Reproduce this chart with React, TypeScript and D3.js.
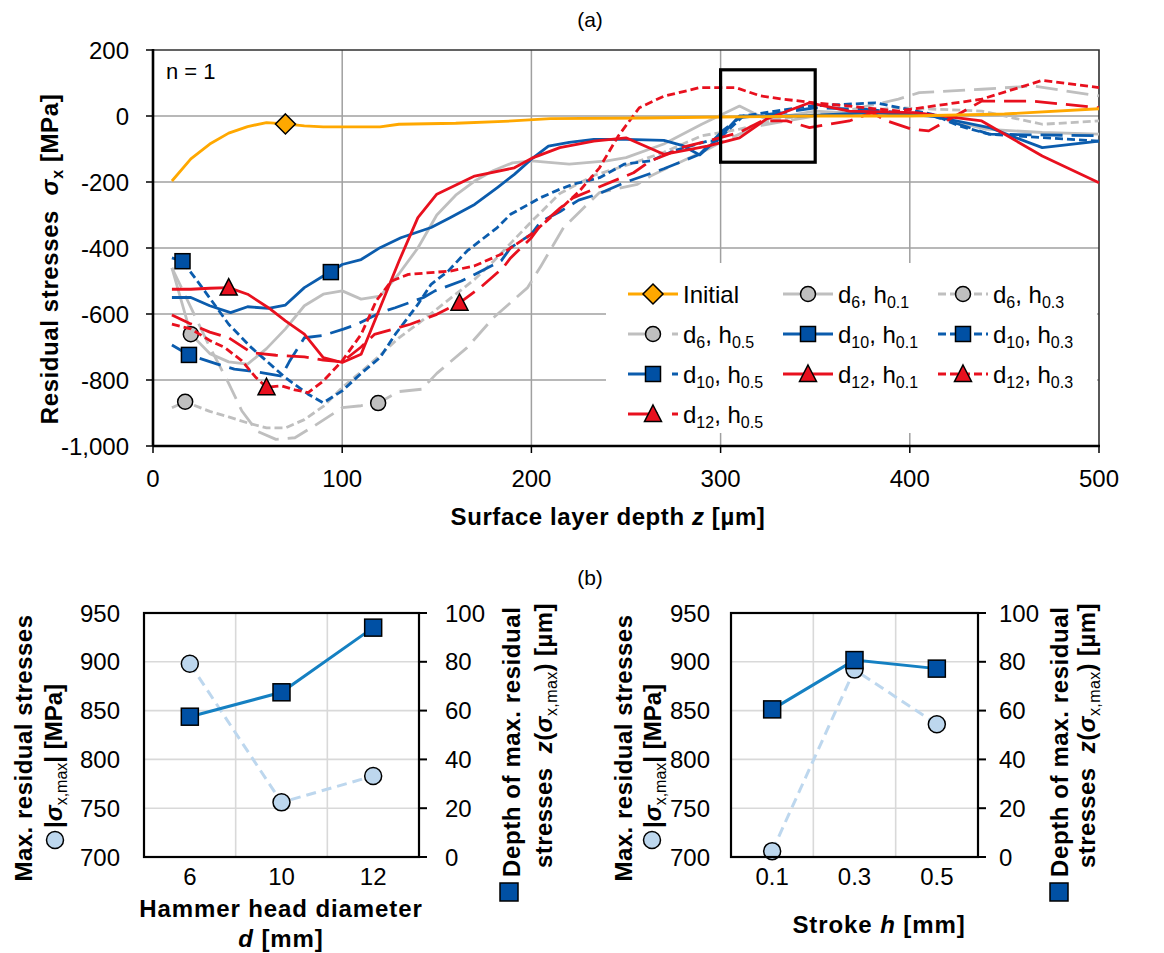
import React from "react";
import * as d3 from "d3";

type Pt = [number, number];

// ---------- (a) residual stress depth profiles, n = 1 ----------
// [depth z in µm, residual stress σx in MPa]
const depthTicks = [0, 100, 200, 300, 400, 500];
const stressTicks = [200, 0, -200, -400, -600, -800, -1000];

const initialState: Pt[] = [[10,-197],[20,-130],[30,-85],[40,-52],[50,-32],[60,-20],[70,-24],[80,-30],[90,-33],[100,-33],[120,-33],[130,-25],[160,-22],[190,-15],[210,-8],[260,-6],[300,-3],[350,0],[400,0],[450,6],[500,22]];

const d6h01: Pt[] = [[10,-460],[20,-661],[30,-720],[40,-745],[50,-752],[60,-705],[70,-645],[80,-575],[90,-540],[100,-530],[110,-555],[120,-546],[130,-478],[140,-400],[150,-300],[160,-240],[170,-197],[180,-165],[190,-142],[200,-136],[220,-146],[240,-136],[250,-126],[270,-85],[290,-25],[310,30],[324,-10],[350,15],[380,5],[412,0],[440,-40],[470,-50],[500,-55]];
const d6h03: Pt[] = [[10,-884],[17,-866],[30,-895],[40,-912],[50,-930],[60,-945],[70,-945],[80,-920],[90,-880],[100,-823],[110,-775],[120,-725],[130,-672],[140,-630],[150,-585],[160,-540],[170,-495],[180,-440],[190,-380],[200,-320],[215,-235],[233,-180],[250,-150],[270,-110],[290,-60],[310,-40],[330,-10],[350,5],[394,25],[438,15],[470,-25],[500,-15]];
const d6h05: Pt[] = [[10,-460],[20,-580],[30,-700],[40,-810],[47,-894],[55,-955],[65,-980],[75,-975],[85,-940],[100,-884],[110,-878],[119,-870],[130,-835],[142,-828],[150,-780],[166,-702],[180,-611],[198,-520],[205,-455],[217,-338],[236,-232],[256,-207],[263,-182],[272,-157],[290,-110],[300,-80],[320,-30],[350,0],[370,20],[394,51],[405,71],[438,81],[465,91],[500,61]];

const d10h01: Pt[] = [[10,-550],[20,-550],[30,-575],[41,-596],[50,-578],[61,-583],[70,-573],[80,-520],[90,-485],[94,-473],[100,-450],[110,-435],[120,-399],[131,-369],[147,-338],[157,-308],[170,-268],[182,-217],[191,-177],[200,-131],[209,-91],[220,-80],[233,-71],[250,-71],[270,-74],[280,-90],[289,-118],[300,-61],[310,0],[342,0],[380,10],[412,0],[442,-35],[470,-96],[500,-76]];
const d10h03: Pt[] = [[10,-430],[15.6,-440],[26,-520],[40,-631],[52,-702],[70,-793],[82,-843],[90,-869],[100,-833],[110,-780],[120,-732],[128,-662],[140,-571],[147,-510],[156,-470],[166,-409],[182,-338],[189,-298],[205,-247],[215,-222],[222,-207],[236,-187],[249,-146],[263,-136],[275,-106],[293,-76],[298,-76],[312,0],[347,30],[382,40],[412,5],[426,-30],[442,-55],[500,-76]];
const d10h05: Pt[] = [[10,-694],[19,-724],[34,-752],[43,-767],[52,-773],[68,-788],[72,-745],[80,-672],[90,-665],[101,-645],[108,-631],[120,-596],[128,-581],[143,-550],[149,-530],[163,-500],[170,-480],[184,-439],[189,-399],[200,-358],[205,-320],[215,-290],[225,-255],[236,-235],[250,-200],[270,-160],[289,-116],[301,-45],[310,-5],[333,10],[350,25],[377,20],[412,0],[426,-25],[442,-55],[500,-60]];

const d12h01: Pt[] = [[10,-525],[20,-525],[30,-522],[40,-520],[50,-540],[61,-581],[70,-621],[80,-661],[90,-732],[100,-747],[110,-722],[120,-581],[130,-440],[140,-308],[150,-237],[170,-182],[191,-157],[201,-126],[215,-96],[233,-76],[250,-66],[270,-116],[293,-91],[310,-66],[324,-10],[347,40],[368,15],[403,10],[438,-15],[470,-121],[500,-202]];
const d12h03: Pt[] = [[10,-631],[20,-645],[30,-680],[38,-702],[47,-742],[54,-790],[60,-822],[68,-818],[75,-830],[82,-838],[90,-803],[100,-742],[110,-662],[118,-560],[126,-500],[135,-480],[157,-470],[170,-454],[184,-419],[200,-358],[214,-288],[225,-230],[236,-157],[246,-60],[257,25],[270,60],[289,86],[308,86],[321,61],[333,51],[350,40],[394,15],[438,51],[470,108],[500,86]];
const d12h05: Pt[] = [[10,-603],[20,-630],[30,-655],[40,-672],[52,-717],[65,-725],[80,-730],[90,-740],[100,-745],[110,-700],[117,-662],[136,-631],[150,-601],[162,-566],[173,-520],[185,-460],[189,-430],[200,-369],[205,-330],[215,-280],[222,-248],[235,-217],[254,-172],[263,-136],[272,-116],[279,-96],[293,-76],[310,-50],[322,-15],[335,-15],[347,-35],[368,-15],[380,10],[388,-15],[401,-40],[410,-45],[424,0],[438,45],[465,45],[500,25]];

// highlighted window (depth range, stress range)
const focusDepth = [300, 350];
const focusStress = [-140, 140];

// ---------- (b) maxima vs. hammer parameters ----------
const diameters = ["6", "10", "12"];
const diameterMaxStress = [898, 756, 783];
const diameterMaxDepth = [57.5, 67.5, 94];

const strokes = ["0.1", "0.3", "0.5"];
const strokeMaxStress = [706, 892, 836];
const strokeMaxDepth = [60.5, 80.7, 77.2];

const maxStressTicks = [700, 750, 800, 850, 900, 950];
const maxDepthTicks = [0, 20, 40, 60, 80, 100];

// ---------- styling ----------
const FONT = "'Liberation Sans', Arial, Helvetica, sans-serif";
const GRAY = "#BFBFBF";
const BLUE = "#0B5CAD";
const RED = "#E8101E";
const ORANGE = "#FFA800";
const MARK_BLUE = "#0050A4";
const LIGHT_BLUE = "#BDD7EE";
const MID_BLUE = "#1580C2";

type Dash = "solid" | "short" | "long";
type MarkerKind = "diamond" | "circle" | "square" | "triangle";

const seriesDash: Record<Dash, string | undefined> = { solid: undefined, short: "8 4", long: "22 9" };
const legendDash: Record<Dash, string | undefined> = { solid: undefined, short: "8 4", long: "30 14" };

interface Profile {
  d?: string;
  h?: string;
  data: Pt[];
  color: string;
  fill: string;
  dash: Dash;
  marker: MarkerKind;
  markAt: number;
}

const initialProfile: Profile = { data: initialState, color: ORANGE, fill: ORANGE, dash: "solid", marker: "diamond", markAt: 70 };
const treatedProfiles: Profile[] = [
  { d: "6", h: "0.1", data: d6h01, color: GRAY, fill: GRAY, dash: "solid", marker: "circle", markAt: 20 },
  { d: "6", h: "0.3", data: d6h03, color: GRAY, fill: GRAY, dash: "short", marker: "circle", markAt: 17 },
  { d: "6", h: "0.5", data: d6h05, color: GRAY, fill: GRAY, dash: "long", marker: "circle", markAt: 119 },
  { d: "10", h: "0.1", data: d10h01, color: BLUE, fill: MARK_BLUE, dash: "solid", marker: "square", markAt: 94 },
  { d: "10", h: "0.3", data: d10h03, color: BLUE, fill: MARK_BLUE, dash: "short", marker: "square", markAt: 15.6 },
  { d: "10", h: "0.5", data: d10h05, color: BLUE, fill: MARK_BLUE, dash: "long", marker: "square", markAt: 19 },
  { d: "12", h: "0.1", data: d12h01, color: RED, fill: RED, dash: "solid", marker: "triangle", markAt: 40 },
  { d: "12", h: "0.3", data: d12h03, color: RED, fill: RED, dash: "short", marker: "triangle", markAt: 60 },
  { d: "12", h: "0.5", data: d12h05, color: RED, fill: RED, dash: "long", marker: "triangle", markAt: 162 },
];

const fmtStress = d3.formatLocale({ decimal: ".", thousands: ",", grouping: [3], currency: ["", ""], minus: "-" }).format(",");

function Marker({ kind, x, y, fill, size = 15 }: { kind: MarkerKind; x: number; y: number; fill: string; size?: number }) {
  const h = size / 2;
  const common = { fill, stroke: "#000", strokeWidth: 1.5 };
  if (kind === "diamond") {
    const r = h + 2.5;
    return <path d={`M${x},${y - r}L${x + r},${y}L${x},${y + r}L${x - r},${y}Z`} {...common} />;
  }
  if (kind === "circle") return <circle cx={x} cy={y} r={h} {...common} />;
  if (kind === "square") return <rect x={x - h} y={y - h} width={size} height={size} {...common} />;
  return <path d={`M${x},${y - h - 1.5}L${x + h + 1},${y + h}L${x - h - 1},${y + h}Z`} {...common} />;
}

// plot frame of panel (a)
const A = { left: 153, right: 1099, top: 50, bottom: 446 };

function ProfilePanel() {
  const x = d3.scaleLinear().domain([0, 500]).range([A.left, A.right]);
  const y = d3.scaleLinear().domain([-1000, 200]).range([A.bottom, A.top]);
  const line = d3.line<Pt>().x((d) => x(d[0])).y((d) => y(d[1]));

  const drawOrder = [...treatedProfiles, initialProfile];
  const legendOrder = [initialProfile, ...treatedProfiles];
  const legendCols = [628, 783, 938];
  const legendRows = [294, 334, 374, 414];

  return (
    <g>
      <text x={590} y={27} textAnchor="middle" fontSize={21}>(a)</text>

      {depthTicks.filter((t) => t > 0 && t < 500).map((t) => (
        <line key={"gx" + t} x1={x(t)} x2={x(t)} y1={A.top} y2={A.bottom} stroke="#A0A0A0" strokeWidth={1.5} />
      ))}
      {stressTicks.filter((t) => t > -1000 && t < 200).map((t) => (
        <line key={"gy" + t} x1={A.left} x2={A.right} y1={y(t)} y2={y(t)} stroke="#A0A0A0" strokeWidth={1.5} />
      ))}
      <path d={`M${A.left},${A.top}H${A.right}V${A.bottom}`} fill="none" stroke="#303030" strokeWidth={1.6} />

      {drawOrder.map((s, i) => {
        const m = s.data.find((p) => p[0] === s.markAt)!;
        return (
          <g key={"s" + i}>
            <path d={line(s.data)!} fill="none" stroke={s.color} strokeWidth={2.8} strokeDasharray={seriesDash[s.dash]} strokeLinejoin="round" />
            <Marker kind={s.marker} x={x(m[0])} y={y(m[1])} fill={s.fill} />
          </g>
        );
      })}

      <rect x={x(focusDepth[0])} y={y(focusStress[1])} width={x(focusDepth[1]) - x(focusDepth[0])} height={y(focusStress[0]) - y(focusStress[1])} fill="none" stroke="#000" strokeWidth={3.2} />

      <text x={166} y={79} fontSize={22}>n = 1</text>

      {/* legend */}
      <rect x={606} y={263} width={491} height={170} fill="#fff" />
      {legendOrder.map((s, i) => {
        const cx = legendCols[i % 3];
        const cy = legendRows[Math.floor(i / 3)];
        return (
          <g key={"l" + i}>
            <line x1={cx} x2={cx + 50} y1={cy} y2={cy} stroke={s.color} strokeWidth={3} strokeDasharray={legendDash[s.dash]} />
            <Marker kind={s.marker} x={cx + 25} y={cy} fill={s.fill} />
            <text x={cx + 55} y={cy + 9} fontSize={24}>
              {s.d ? (
                <>
                  d<tspan fontSize={16} dy={5}>{s.d}</tspan>
                  <tspan dy={-5} style={{ whiteSpace: "pre" }}>{", h"}</tspan>
                  <tspan fontSize={16} dy={5}>{s.h}</tspan>
                </>
              ) : "Initial"}
            </text>
          </g>
        );
      })}

      {/* axes */}
      <line x1={A.left} x2={A.left} y1={A.top - 1} y2={A.bottom} stroke="#000" strokeWidth={2.6} />
      <line x1={A.left} x2={A.right + 1} y1={A.bottom} y2={A.bottom} stroke="#000" strokeWidth={2.6} />
      {stressTicks.map((t) => (
        <g key={"ty" + t}>
          <line x1={A.left - 7} x2={A.left} y1={y(t)} y2={y(t)} stroke="#000" strokeWidth={1.5} />
          <text x={129} y={y(t)} dy="0.36em" textAnchor="end" fontSize={24}>{fmtStress(t)}</text>
        </g>
      ))}
      {depthTicks.map((t) => (
        <g key={"tx" + t}>
          <line x1={x(t)} x2={x(t)} y1={A.bottom} y2={A.bottom + 7} stroke="#000" strokeWidth={1.5} />
          <text x={x(t)} y={487} textAnchor="middle" fontSize={24}>{t}</text>
        </g>
      ))}

      <text transform="translate(58,259) rotate(-90)" textAnchor="middle" fontSize={24} fontWeight="bold" letterSpacing={0.6} style={{ whiteSpace: "pre" }}>
        {"Residual stresses  "}<tspan fontStyle="italic">σ</tspan>
        <tspan fontSize={16} dy={5}>x</tspan>
        <tspan dy={-5}>{" [MPa]"}</tspan>
      </text>
      <text x={608} y={525} textAnchor="middle" fontSize={24} fontWeight="bold" letterSpacing={0.6} style={{ whiteSpace: "pre" }}>
        {"Surface layer depth "}<tspan fontStyle="italic">z</tspan>{" [µm]"}
      </text>
    </g>
  );
}

interface PanelLayout {
  frame: { left: number; right: number; top: number; bottom: number };
  leftTickX: number;
  rightTickX: number;
  leftTitleX: [number, number];
  rightTitleX: [number, number];
  circleKey: [number, number];
  squareKey: [number, number];
}

function ParameterPanel({ categories, maxStress, maxDepth, lay, children }: { categories: string[]; maxStress: number[]; maxDepth: number[]; lay: PanelLayout; children?: React.ReactNode }) {
  const f = lay.frame;
  const x = d3.scaleBand().domain(categories).range([f.left, f.right]);
  const yS = d3.scaleLinear().domain([700, 950]).range([f.bottom, f.top]);
  const yD = d3.scaleLinear().domain([0, 100]).range([f.bottom, f.top]);
  const cx = (c: string) => (x(c) as number) + x.bandwidth() / 2;

  const stressPts = categories.map((c, i) => [cx(c), yS(maxStress[i])] as Pt);
  const depthPts = categories.map((c, i) => [cx(c), yD(maxDepth[i])] as Pt);
  const line = d3.line<Pt>();

  return (
    <g>
      {maxStressTicks.filter((t) => t > 700 && t < 950).map((t) => (
        <line key={"h" + t} x1={f.left} x2={f.right} y1={yS(t)} y2={yS(t)} stroke="#D9D9D9" strokeWidth={1.6} />
      ))}
      {categories.slice(1).map((c) => (
        <line key={"v" + c} x1={x(c)} x2={x(c)} y1={f.top} y2={f.bottom} stroke="#D9D9D9" strokeWidth={1.6} />
      ))}

      <path d={line(stressPts)!} fill="none" stroke={LIGHT_BLUE} strokeWidth={3} strokeDasharray="10 6" />
      {stressPts.map((p, i) => <Marker key={"c" + i} kind="circle" x={p[0]} y={p[1]} fill={LIGHT_BLUE} size={17} />)}
      <path d={line(depthPts)!} fill="none" stroke={MID_BLUE} strokeWidth={3} />
      {depthPts.map((p, i) => <Marker key={"q" + i} kind="square" x={p[0]} y={p[1]} fill={MARK_BLUE} size={17} />)}

      <rect x={f.left} y={f.top} width={f.right - f.left} height={f.bottom - f.top} fill="none" stroke="#000" strokeWidth={2.2} />
      {maxDepthTicks.map((t) => (
        <g key={"rd" + t}>
          <line x1={f.right} x2={f.right + 8} y1={yD(t)} y2={yD(t)} stroke="#000" strokeWidth={2} />
          <text x={lay.rightTickX} y={yD(t)} dy="0.36em" fontSize={24}>{t}</text>
        </g>
      ))}
      {maxStressTicks.map((t) => (
        <text key={"ls" + t} x={lay.leftTickX} y={yS(t)} dy="0.36em" textAnchor="end" fontSize={24}>{t}</text>
      ))}
      {categories.map((c) => (
        <text key={"xc" + c} x={cx(c)} y={885} textAnchor="middle" fontSize={24}>{c}</text>
      ))}

      {/* left axis title */}
      <text transform={`translate(${lay.leftTitleX[0]},748) rotate(-90)`} textAnchor="middle" fontSize={24} fontWeight="bold" letterSpacing={0.5}>
        Max. residual stresses
      </text>
      <Marker kind="circle" x={lay.circleKey[0]} y={lay.circleKey[1]} fill={LIGHT_BLUE} size={17} />
      <text transform={`translate(${lay.leftTitleX[1]},828) rotate(-90)`} fontSize={24} fontWeight="bold" style={{ whiteSpace: "pre" }}>
        |<tspan fontStyle="italic">σ</tspan>
        <tspan fontSize={16} fontWeight="normal" dy={5}>x,max</tspan>
        <tspan dy={-5}>{"| [MPa]"}</tspan>
      </text>

      {/* right axis title */}
      <Marker kind="square" x={lay.squareKey[0]} y={lay.squareKey[1]} fill={MARK_BLUE} size={18} />
      <text transform={`translate(${lay.rightTitleX[0]},877) rotate(-90)`} fontSize={24} fontWeight="bold" letterSpacing={0.6}>
        Depth of max. residual
      </text>
      <text transform={`translate(${lay.rightTitleX[1]},868) rotate(-90)`} fontSize={24} fontWeight="bold" letterSpacing={0.4} style={{ whiteSpace: "pre" }}>
        {"stresses  "}<tspan fontStyle="italic">z</tspan>(<tspan fontStyle="italic">σ</tspan>
        <tspan fontSize={16} fontWeight="normal" dy={5}>x,max</tspan>
        <tspan dy={-5}>{") [µm]"}</tspan>
      </text>
      {children}
    </g>
  );
}

const diameterLayout: PanelLayout = {
  frame: { left: 144, right: 419, top: 613, bottom: 857 },
  leftTickX: 120,
  rightTickX: 445,
  leftTitleX: [32, 62],
  rightTitleX: [520, 552],
  circleKey: [55, 840],
  squareKey: [509, 892],
};

const strokeLayout: PanelLayout = {
  frame: { left: 731, right: 978, top: 613, bottom: 857 },
  leftTickX: 710,
  rightTickX: 999,
  leftTitleX: [632, 661],
  rightTitleX: [1068, 1095],
  circleKey: [652, 840],
  squareKey: [1059, 892],
};

export default function App() {
  return (
    <svg
      width={1164}
      height={953}
      viewBox="0 0 1164 953"
      style={{ position: "absolute", left: 0, top: 0, display: "block", fontFamily: FONT }}
    >
      <rect width={1164} height={953} fill="#fff" />
      <ProfilePanel />
      <text x={590} y={585} textAnchor="middle" fontSize={21}>(b)</text>

      <ParameterPanel categories={diameters} maxStress={diameterMaxStress} maxDepth={diameterMaxDepth} lay={diameterLayout}>
        <text x={281} y={917} textAnchor="middle" fontSize={24} fontWeight="bold" letterSpacing={0.9}>Hammer head diameter</text>
        <text x={281} y={947} textAnchor="middle" fontSize={24} fontWeight="bold" letterSpacing={0.9} style={{ whiteSpace: "pre" }}>
          <tspan fontStyle="italic">d</tspan>{" [mm]"}
        </text>
      </ParameterPanel>

      <ParameterPanel categories={strokes} maxStress={strokeMaxStress} maxDepth={strokeMaxDepth} lay={strokeLayout}>
        <text x={879} y={933} textAnchor="middle" fontSize={24} fontWeight="bold" letterSpacing={0.9} style={{ whiteSpace: "pre" }}>
          {"Stroke "}<tspan fontStyle="italic">h</tspan>{" [mm]"}
        </text>
      </ParameterPanel>
    </svg>
  );
}
